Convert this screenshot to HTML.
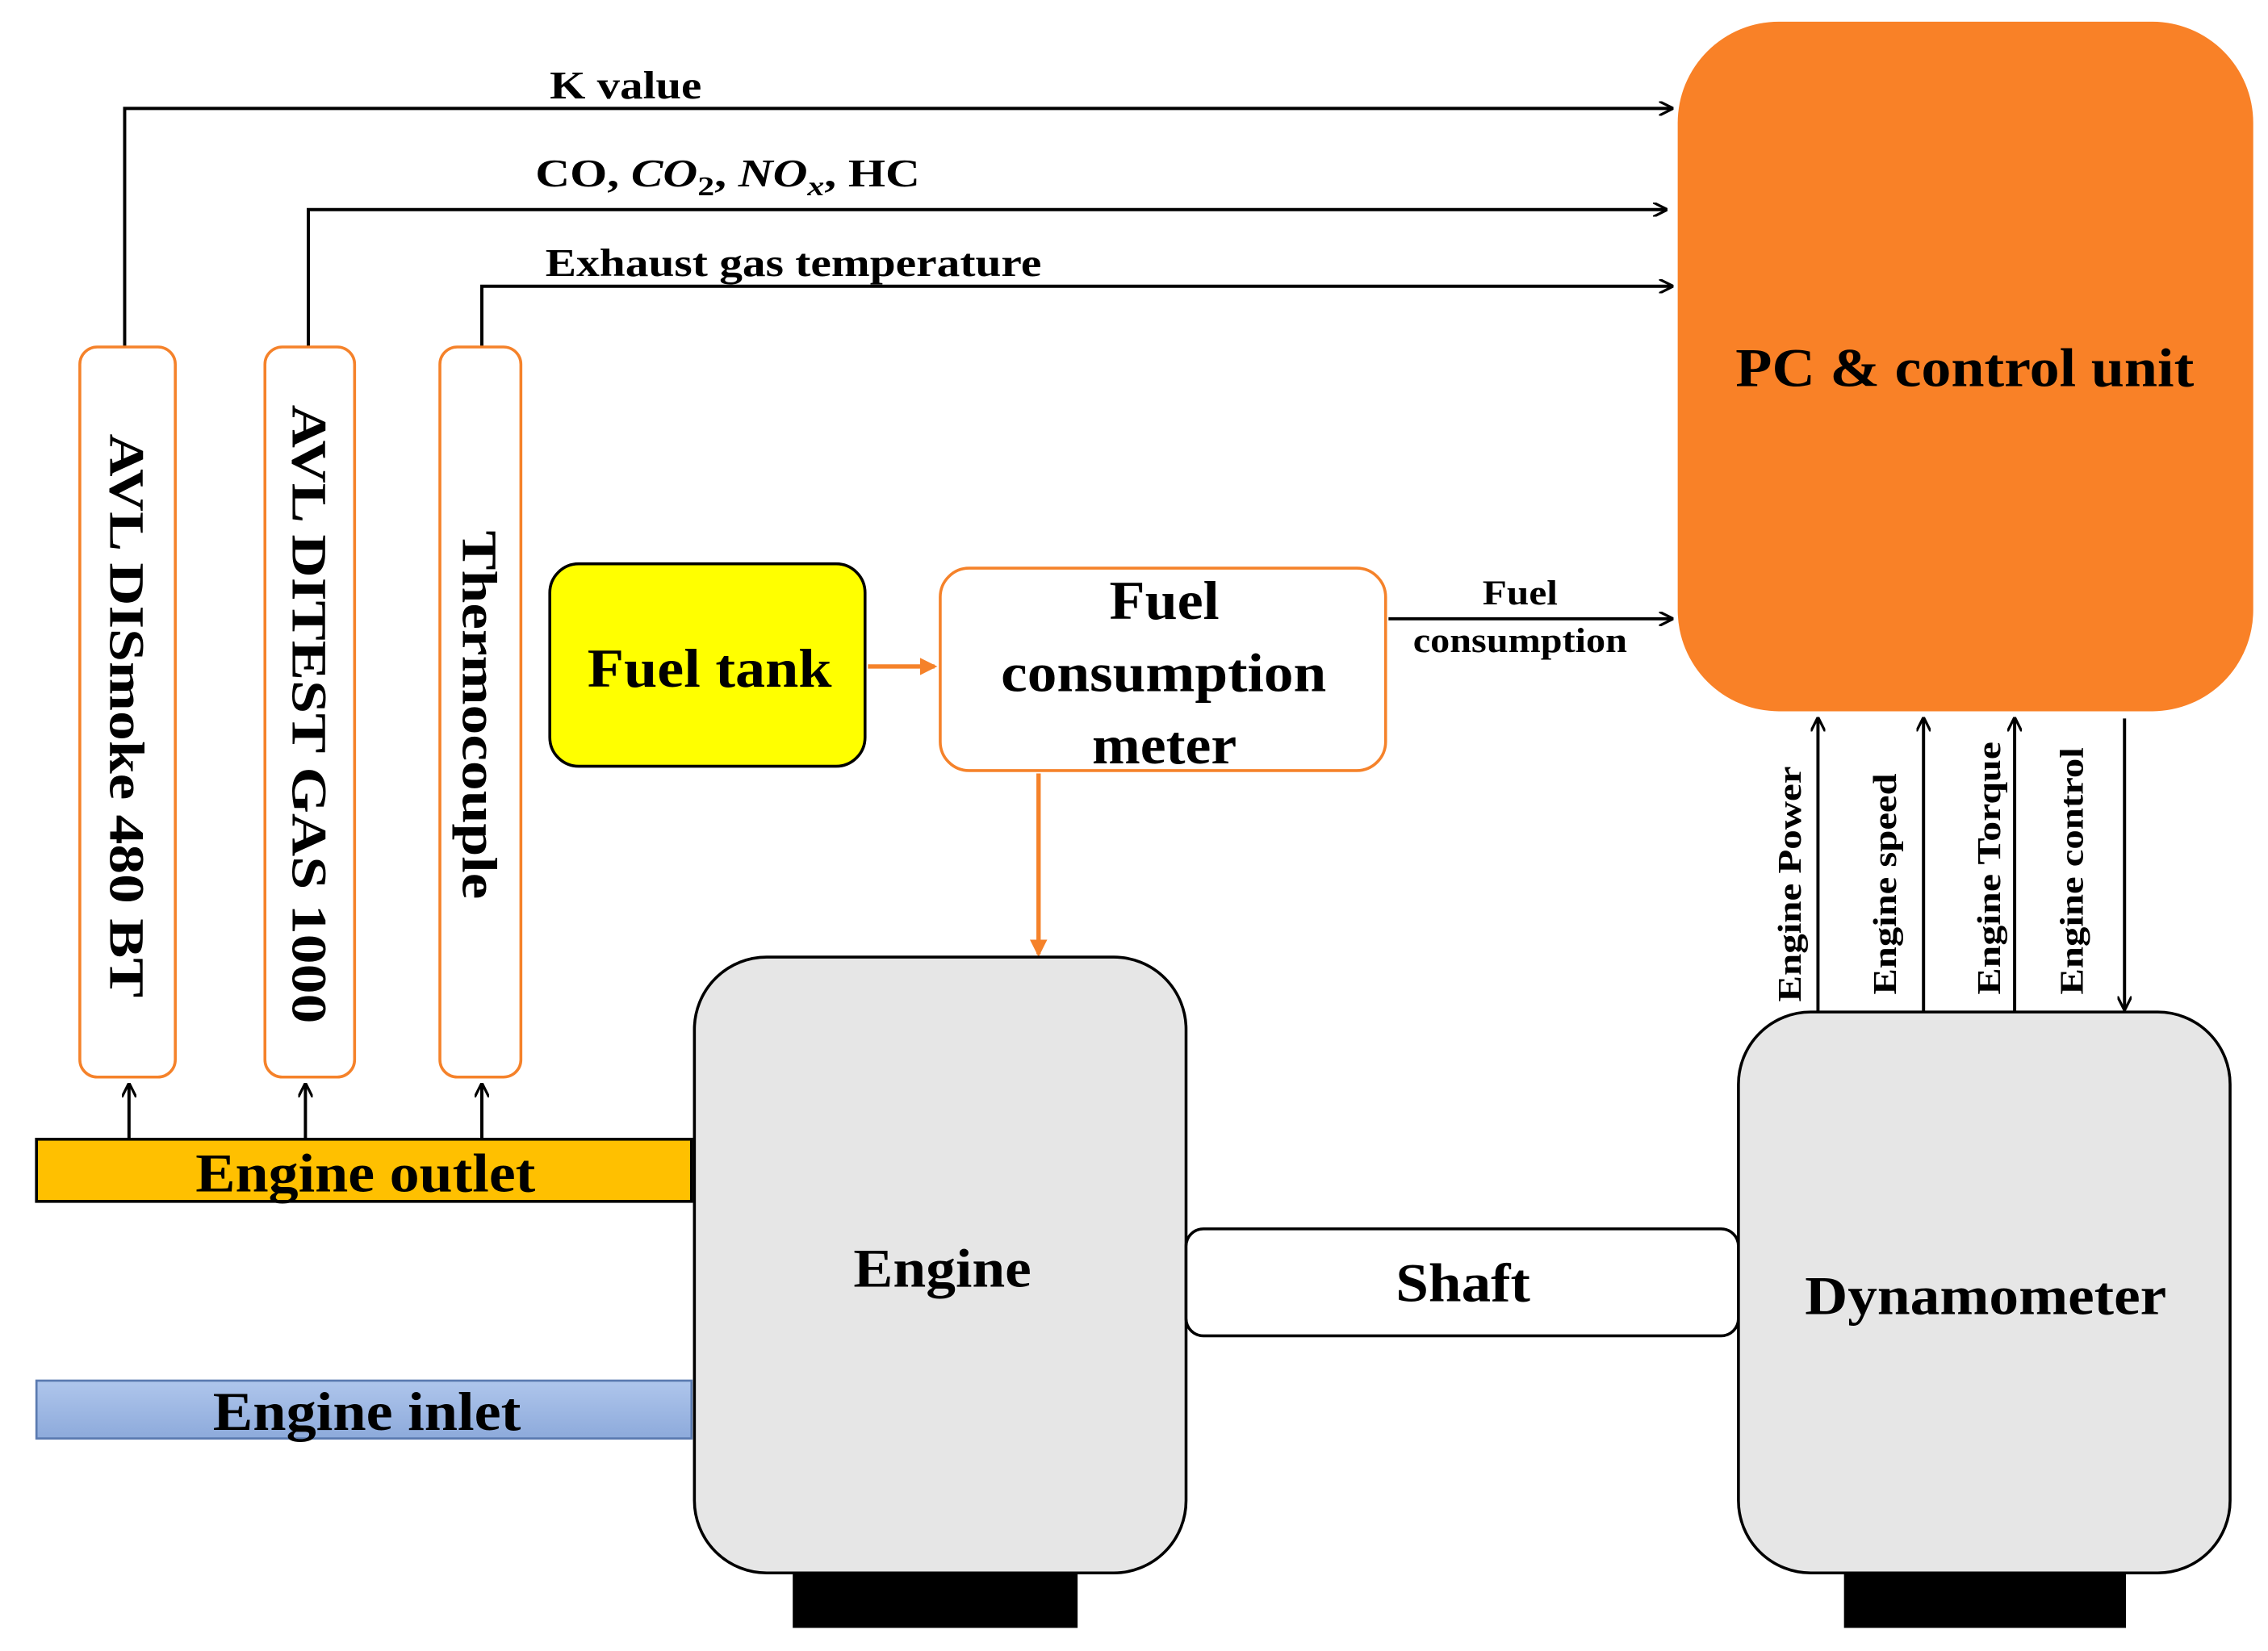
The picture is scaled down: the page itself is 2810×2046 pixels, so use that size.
<!DOCTYPE html>
<html><head><meta charset="utf-8"><style>
html,body{margin:0;padding:0;background:#fff;}
svg{display:block;}
text{font-family:"Liberation Serif",serif;font-weight:bold;fill:#000;}
</style></head><body>
<svg width="2810" height="2046" viewBox="0 0 1568 1142" xmlns="http://www.w3.org/2000/svg">
<defs>
<marker id="a" markerWidth="10" markerHeight="10" refX="9" refY="5" orient="auto" markerUnits="userSpaceOnUse" viewBox="0 0 10 10"><path d="M0,0 L10,5 L0,10" fill="none" stroke="#000" stroke-width="1.8"/></marker>
<marker id="o" markerWidth="12" markerHeight="12" refX="10" refY="6" orient="auto" markerUnits="userSpaceOnUse" viewBox="0 0 12 12"><path d="M0,0 L12,6 L0,12 z" fill="#F5822A"/></marker>
<linearGradient id="bl" x1="0" y1="0" x2="0" y2="1"><stop offset="0" stop-color="#AFC6EC"/><stop offset="1" stop-color="#8DAADB"/></linearGradient>
</defs>
<rect x="1160" y="15" width="398" height="477" rx="70" fill="#F98127"/>
<text x="1200" y="267" font-size="38" textLength="317" lengthAdjust="spacingAndGlyphs">PC &amp; control unit</text>
<g fill="none" stroke="#000" stroke-width="2.2">
<path d="M86,245 V75 H1156" marker-end="url(#a)"/>
<path d="M213,240 V145 H1152" marker-end="url(#a)"/>
<path d="M333,240 V198 H1156" marker-end="url(#a)"/>
<path d="M960,428 H1156" marker-end="url(#a)"/>
<path d="M89,787 V750" marker-end="url(#a)"/>
<path d="M211,787 V750" marker-end="url(#a)"/>
<path d="M333,787 V750" marker-end="url(#a)"/>
<path d="M1257,702 V497" marker-end="url(#a)"/>
<path d="M1330,702 V497" marker-end="url(#a)"/>
<path d="M1393,702 V497" marker-end="url(#a)"/>
<path d="M1469,497 V698" marker-end="url(#a)"/>
</g>
<text x="380" y="68" font-size="27" textLength="105" lengthAdjust="spacingAndGlyphs">K value</text>
<text x="370" y="129" font-size="27" textLength="266" lengthAdjust="spacingAndGlyphs">CO, <tspan font-style="italic">CO</tspan><tspan font-size="19" dy="6">2</tspan><tspan dy="-6">, </tspan><tspan font-style="italic">NO</tspan><tspan font-size="19" font-style="italic" dy="6">x</tspan><tspan dy="-6">, HC</tspan></text>
<text x="377" y="191" font-size="27" textLength="343" lengthAdjust="spacingAndGlyphs">Exhaust gas temperature</text>
<g fill="#fff" stroke="#F5822A" stroke-width="2">
<rect x="55" y="240" width="66" height="505" rx="12"/>
<rect x="183" y="240" width="62" height="505" rx="12"/>
<rect x="304" y="240" width="56" height="505" rx="12"/>
</g>
<text font-size="34" transform="translate(76,300) rotate(90)" textLength="390" lengthAdjust="spacingAndGlyphs">AVL DISmoke 480 BT</text>
<text font-size="34" transform="translate(202,280) rotate(90)" textLength="428" lengthAdjust="spacingAndGlyphs">AVL DITEST GAS 1000</text>
<text font-size="34" transform="translate(320,367) rotate(90)" textLength="255" lengthAdjust="spacingAndGlyphs">Thermocouple</text>
<rect x="25" y="788" width="453" height="43" fill="#FFC000" stroke="#000" stroke-width="2"/>
<text x="135" y="824" font-size="38" textLength="235" lengthAdjust="spacingAndGlyphs">Engine outlet</text>
<rect x="25" y="955" width="453" height="40" fill="url(#bl)" stroke="#5a7ab0" stroke-width="1.5"/>
<text x="147" y="989" font-size="38" textLength="213" lengthAdjust="spacingAndGlyphs">Engine inlet</text>
<rect x="380" y="390" width="218" height="140" rx="20" fill="#FFFF00" stroke="#000" stroke-width="2"/>
<text x="406" y="475" font-size="38" textLength="169" lengthAdjust="spacingAndGlyphs">Fuel tank</text>
<path d="M600,461 H646" stroke="#F5822A" stroke-width="3" marker-end="url(#o)"/>
<rect x="650" y="393" width="308" height="140" rx="20" fill="#fff" stroke="#F5822A" stroke-width="2"/>
<text x="767" y="428" font-size="38" textLength="76" lengthAdjust="spacingAndGlyphs">Fuel</text>
<text x="692" y="478" font-size="38" textLength="225" lengthAdjust="spacingAndGlyphs">consumption</text>
<text x="755" y="528" font-size="38" textLength="100" lengthAdjust="spacingAndGlyphs">meter</text>
<text x="1025" y="418" font-size="24" textLength="52" lengthAdjust="spacingAndGlyphs">Fuel</text>
<text x="977" y="451" font-size="24" textLength="148" lengthAdjust="spacingAndGlyphs">consumption</text>
<path d="M718,535 V660" stroke="#F5822A" stroke-width="3" marker-end="url(#o)"/>
<rect x="548" y="1084" width="197" height="42" fill="#000"/>
<rect x="1275" y="1084" width="195" height="42" fill="#000"/>
<rect x="480" y="662" width="340" height="426" rx="50" fill="#E6E6E6" stroke="#000" stroke-width="2"/>
<text x="590" y="890" font-size="38" textLength="123" lengthAdjust="spacingAndGlyphs">Engine</text>
<rect x="820" y="850" width="382" height="74" rx="12" fill="#fff" stroke="#000" stroke-width="2"/>
<text x="965" y="900" font-size="38" textLength="93" lengthAdjust="spacingAndGlyphs">Shaft</text>
<rect x="1202" y="700" width="340" height="388" rx="50" fill="#E6E6E6" stroke="#000" stroke-width="2"/>
<text x="1248" y="909" font-size="38" textLength="250" lengthAdjust="spacingAndGlyphs">Dynamometer</text>
<text font-size="23" transform="translate(1245,693) rotate(-90)" textLength="163" lengthAdjust="spacingAndGlyphs">Engine Power</text>
<text font-size="23" transform="translate(1311,688) rotate(-90)" textLength="153" lengthAdjust="spacingAndGlyphs">Engine speed</text>
<text font-size="23" transform="translate(1383,688) rotate(-90)" textLength="175" lengthAdjust="spacingAndGlyphs">Engine Torque</text>
<text font-size="23" transform="translate(1440,688) rotate(-90)" textLength="171" lengthAdjust="spacingAndGlyphs">Engine control</text>
</svg>
</body></html>
